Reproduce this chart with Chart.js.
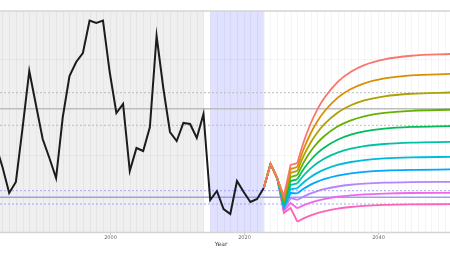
<!DOCTYPE html>
<html>
<head>
<meta charset="utf-8">
<script src="https://cdn.jsdelivr.net/npm/chart.js@4/dist/chart.umd.min.js"></script>
<style>
html,body{margin:0;padding:0;background:#fff;}
canvas{display:block;}
</style>
</head>
<body>
<canvas id="c" width="450" height="253"></canvas>
<script>
// ---- data ----
const histYears = [1983,1984,1985,1986,1987,1988,1989,1990,1991,1992,1993,1994,1995,1996,1997,1998,1999,2000,2001,2002,2003,2004,2005,2006,2007,2008,2009,2010,2011,2012,2013,2014,2015,2016,2017,2018,2019,2020,2021,2022,2023];
const histValues = [22.08,17.5,12.08,14.38,25.63,37.5,30.42,23.33,19.38,15.21,27.92,36.46,39.38,41.25,48.02,47.5,48.02,37.29,28.75,30.63,16.67,21.46,20.83,25.83,44.79,33.96,24.79,22.92,26.67,26.46,23.54,28.54,10.63,12.5,8.75,7.71,14.58,12.29,10.21,10.83,13.13];

const projYears = [2023,2024,2025,2026,2027,2028,2029,2030,2031,2032,2034,2036,2038,2041,2045,2051];
const scen1  = [13.13,18.13,15.21,11.46,17.92,18.33,22.90,26.56,29.49,31.82,35.20,37.35,38.74,39.93,40.68,41.05];
const scen2  = [13.13,18.13,15.21,11.10,17.08,17.50,21.40,24.53,27.03,29.02,31.91,33.74,34.93,35.95,36.58,36.90];
const scen3  = [13.13,18.13,15.21,10.75,16.25,16.67,19.96,22.60,24.70,26.38,28.82,30.36,31.37,32.22,32.76,33.03];
const scen4  = [13.13,18.13,15.21,10.42,15.42,15.83,18.57,20.76,22.51,23.91,25.93,27.22,28.06,28.77,29.21,29.44];
const scen5  = [13.13,18.13,15.21,10.06,14.58,14.94,17.17,18.96,20.39,21.52,23.18,24.23,24.91,25.49,25.85,26.03];
const scen6  = [13.13,18.13,15.21,9.71,13.75,14.10,15.83,17.22,18.33,19.22,20.50,21.31,21.84,22.29,22.57,22.72];
const scen7  = [13.13,18.13,15.21,9.38,12.92,13.06,14.38,15.43,16.28,16.95,17.92,18.54,18.94,19.29,19.50,19.61];
const scen8  = [13.13,18.13,15.21,9.02,12.08,12.02,13.02,13.82,14.46,14.97,15.71,16.18,16.48,16.74,16.91,16.99];
const scen9  = [13.13,18.13,15.21,8.67,11.04,10.63,11.39,12.00,12.49,12.88,13.44,13.80,14.03,14.23,14.35,14.42];
const scen10 = [13.13,18.13,15.21,8.33,10.00,8.90,9.55,10.07,10.49,10.82,11.30,11.60,11.80,11.97,12.08,12.13];
const scen11 = [13.13,18.13,15.21,7.92,8.96,6.10,6.84,7.43,7.90,8.28,8.82,9.17,9.40,9.59,9.70,9.75];
const scenarios = [scen1,scen2,scen3,scen4,scen5,scen6,scen7,scen8,scen9,scen10,scen11];
const scenColors = ["#F8766D","#DB8E00","#AEA200","#64B200","#00BD5C","#00C1A7","#00BADE","#00A6FF","#B385FF","#EF67EB","#FF63B6"];

const refLevel = [29.65];       // grey solid
const refBand = [26.19, 32.98]; // grey dotted
const targetLevel = [11.19];    // blue solid
const targetBand = [9.79, 12.56]; // blue dotted

const historicEnd = 2014.05;
const windowStart = 2015;
const windowEnd = 2023;

const xTickValues = [2000, 2020, 2040];
const xTickLabels = ["2000", "2020", "2040"];
const xTitle = "Year";
const xMin = 1983.63, xMax = 2050.79;
const yMin = 3.75, yMax = 50;

// ---- chart ----
const toPts = (xs, ys) => xs.map((x, i) => ({x: x, y: ys[i]}));
const splitIdx = projYears.indexOf(2028);

const datasets = [];
scenarios.forEach((s, i) => {
  datasets.push({
    data: toPts(projYears.slice(0, splitIdx + 1), s.slice(0, splitIdx + 1)),
    borderColor: scenColors[i], borderWidth: 1.8, pointRadius: 0, tension: 0, fill: false
  });
  datasets.push({
    data: toPts(projYears.slice(splitIdx), s.slice(splitIdx)),
    borderColor: scenColors[i], borderWidth: 1.8, pointRadius: 0,
    cubicInterpolationMode: 'monotone', fill: false
  });
});
datasets.push({
  data: toPts(histYears, histValues),
  borderColor: "#1c1c1c", borderWidth: 2, pointRadius: 0, tension: 0, fill: false
});

const decor = {
  id: 'decor',
  beforeDatasetsDraw(chart) {
    const {ctx, chartArea: a, scales: {x, y}} = chart;
    ctx.save();
    // regions
    ctx.fillStyle = "#EFEFEF";
    ctx.fillRect(a.left, a.top, x.getPixelForValue(historicEnd) - a.left, a.bottom - a.top);
    ctx.fillStyle = "#E0E0FF";
    const bx0 = x.getPixelForValue(windowStart), bx1 = x.getPixelForValue(windowEnd);
    ctx.fillRect(bx0, a.top, bx1 - bx0, a.bottom - a.top);
    // vertical grid each year
    ctx.strokeStyle = "rgba(0,0,0,0.04)";
    ctx.lineWidth = 1;
    for (let yr = Math.ceil(xMin); yr <= xMax; yr++) {
      const px = Math.round(x.getPixelForValue(yr)) + 0.5;
      ctx.beginPath(); ctx.moveTo(px, a.top); ctx.lineTo(px, a.bottom); ctx.stroke();
    }
    // horizontal grid
    [20, 40].forEach(v => {
      const py = Math.round(y.getPixelForValue(v)) + 0.5;
      ctx.beginPath(); ctx.moveTo(a.left, py); ctx.lineTo(a.right, py); ctx.stroke();
    });
    // frame lines
    ctx.strokeStyle = "#D4D4D4"; ctx.lineWidth = 1.5;
    ctx.beginPath(); ctx.moveTo(a.left, a.top); ctx.lineTo(a.right, a.top); ctx.stroke();
    ctx.beginPath(); ctx.moveTo(a.left, a.bottom - 0.5); ctx.lineTo(a.right, a.bottom - 0.5); ctx.stroke();
    // reference lines
    const hline = (v, color, w, dash) => {
      const py = y.getPixelForValue(v);
      ctx.strokeStyle = color; ctx.lineWidth = w; ctx.setLineDash(dash);
      ctx.beginPath(); ctx.moveTo(a.left, py); ctx.lineTo(a.right, py); ctx.stroke();
      ctx.setLineDash([]);
    };
    refBand.forEach(v => hline(v, "#BBBBBB", 1, [2, 2]));
    refLevel.forEach(v => hline(v, "#BDBDBD", 1.5, []));
    targetBand.forEach(v => hline(v, "#A3A3FF", 1, [2, 2]));
    targetLevel.forEach(v => hline(v, "#9E9EF0", 1.5, []));
    ctx.restore();
  },
  afterDraw(chart) {
    const {ctx, chartArea: a, scales: {x}} = chart;
    ctx.save();
    ctx.strokeStyle = "#C8C8C8"; ctx.lineWidth = 1;
    ctx.fillStyle = "#6B6B6B";
    ctx.font = "5px 'DejaVu Sans', sans-serif";
    ctx.textAlign = "center"; ctx.textBaseline = "middle";
    xTickValues.forEach((v, i) => {
      const px = Math.round(x.getPixelForValue(v)) + 0.5;
      ctx.beginPath(); ctx.moveTo(px, a.bottom); ctx.lineTo(px, a.bottom + 2); ctx.stroke();
      ctx.fillText(xTickLabels[i], px, a.bottom + 5);
    });
    ctx.fillStyle = "#3a3a3a";
    ctx.font = "6px 'DejaVu Sans', sans-serif";
    ctx.fillText(xTitle, 221, a.bottom + 11);
    ctx.restore();
  }
};

new Chart(document.getElementById('c'), {
  type: 'line',
  data: {datasets: datasets},
  options: {
    responsive: false,
    animation: false,
    devicePixelRatio: 1,
    layout: {padding: {top: 11, bottom: 20, left: 0, right: 0}},
    plugins: {legend: {display: false}, tooltip: {enabled: false}},
    scales: {
      x: {type: 'linear', min: xMin, max: xMax, display: false},
      y: {type: 'linear', min: yMin, max: yMax, display: false}
    }
  },
  plugins: [decor]
});
</script>
</body>
</html>
